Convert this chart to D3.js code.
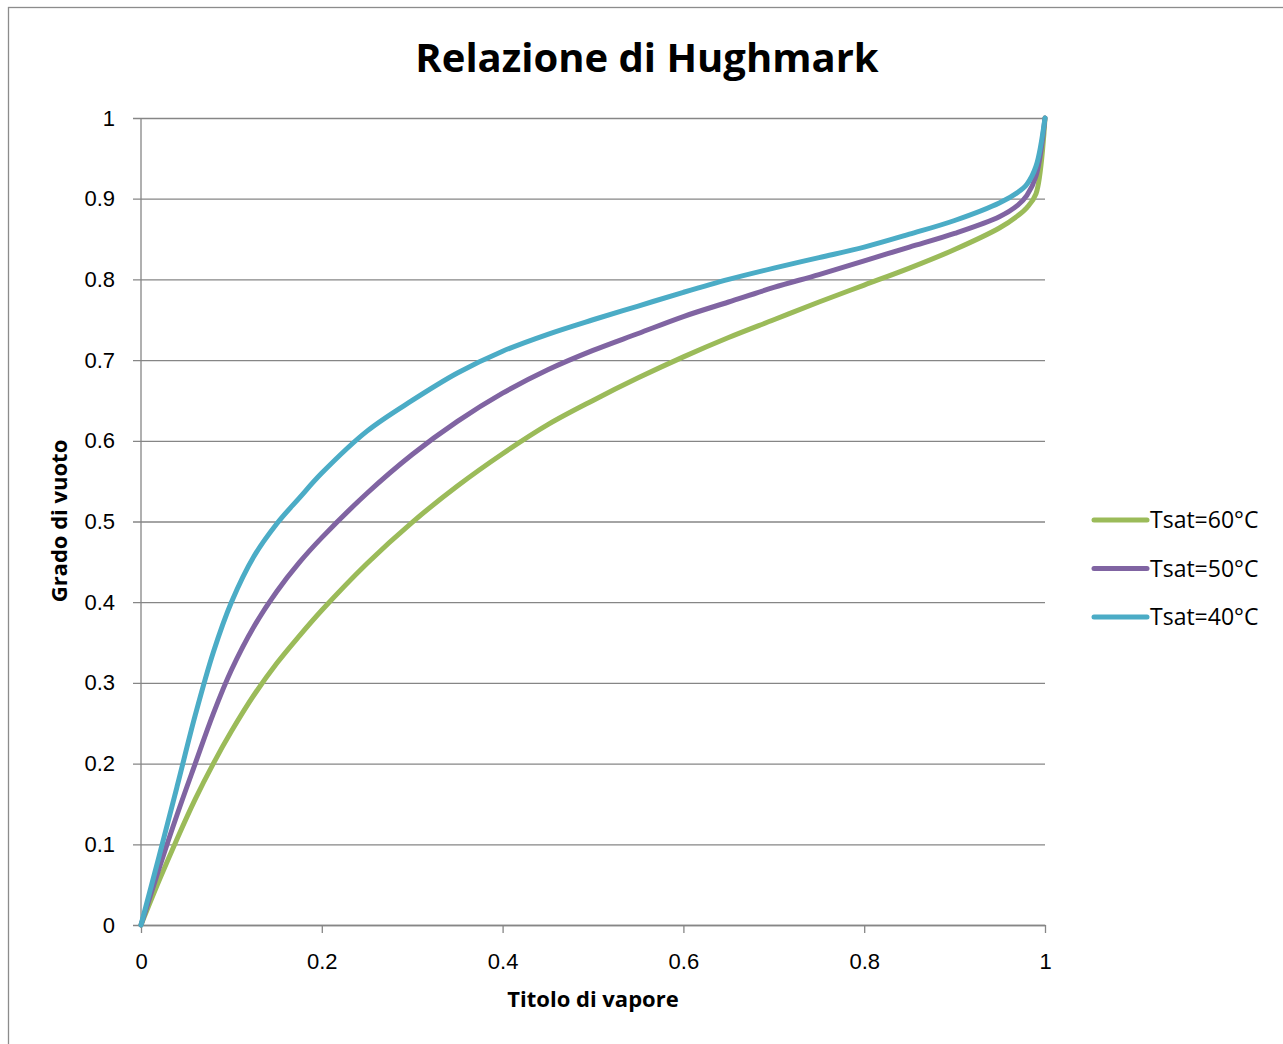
<!DOCTYPE html>
<html>
<head>
<meta charset="utf-8">
<script src="https://cdn.jsdelivr.net/npm/d3@7"></script>
<style>
  body { margin: 0; background: #fff; }
  svg { font-family: "Open Sans", "Noto Sans", sans-serif; }
</style>
</head>
<body>
<svg></svg>
<script>
const svgWidth = 1283;
const svgHeight = 1044;
const margin = {left: 141, right: 238, top: 118, bottom: 119};

// titolo di vapore (x) e grado di vuoto per ogni Tsat
const titolo = [0, 0.02, 0.04, 0.06, 0.08, 0.1, 0.125, 0.15, 0.175, 0.2, 0.25, 0.3, 0.35, 0.4, 0.45, 0.5,
                0.55, 0.6, 0.65, 0.7, 0.75, 0.8, 0.85, 0.9, 0.95, 0.97, 0.98, 0.99, 1];
const vuoto60 = [0, 0.055, 0.107, 0.156, 0.2, 0.24, 0.285, 0.324, 0.358, 0.39, 0.448, 0.499, 0.544, 0.584, 0.62, 0.65,
                 0.678, 0.704, 0.728, 0.75, 0.772, 0.793, 0.814, 0.837, 0.864, 0.879, 0.889, 0.906, 1];
const vuoto50 = [0, 0.07, 0.137, 0.2, 0.262, 0.316, 0.37, 0.413, 0.449, 0.48, 0.535, 0.583, 0.624, 0.659, 0.688, 0.712,
                 0.733, 0.754, 0.772, 0.79, 0.806, 0.823, 0.84, 0.857, 0.878, 0.892, 0.904, 0.928, 1];
const vuoto40 = [0, 0.085, 0.172, 0.26, 0.338, 0.40, 0.457, 0.497, 0.529, 0.56, 0.612, 0.65, 0.684, 0.711, 0.732, 0.75,
                 0.767, 0.784, 0.80, 0.814, 0.827, 0.84, 0.856, 0.873, 0.895, 0.908, 0.918, 0.94, 1];

const seriesNames = ["Tsat=60°C", "Tsat=50°C", "Tsat=40°C"];
const seriesValues = [vuoto60, vuoto50, vuoto40];
const seriesColors = ["#9bbb59", "#8064a2", "#4bacc6"];
const xTicks = [0, 0.2, 0.4, 0.6, 0.8, 1];
const yTicks = [0, 0.1, 0.2, 0.3, 0.4, 0.5, 0.6, 0.7, 0.8, 0.9, 1];

const svg = d3.select("svg")
        .attr("width", svgWidth)
        .attr("height", svgHeight);

// bordo del grafico (solo lati sinistro e superiore visibili)
svg.append("rect")
    .attr("x", 8.5).attr("y", 7.5)
    .attr("width", svgWidth + 20).attr("height", svgHeight + 20)
    .attr("fill", "none")
    .attr("stroke", "#8c8c8c")
    .attr("stroke-width", 1.3);

const xScale = d3.scaleLinear()
        .domain([0, 1])
        .range([margin.left, svgWidth - margin.right]);
const yScale = d3.scaleLinear()
        .domain([0, 1])
        .range([svgHeight - margin.bottom, margin.top]);

let fmt = d => d3.format("")(+d.toFixed(1));

// griglia + asse y
let yAxis = d3.axisLeft(yScale)
        .tickValues(yTicks)
        .tickSize(-(xScale(1) - xScale(0)))
        .tickSizeOuter(0)
        .tickPadding(26)
        .tickFormat(fmt);
let gy = svg.append("g")
        .attr("transform", `translate(${margin.left}, 0)`)
        .call(yAxis);
gy.select(".domain").remove();
gy.selectAll(".tick line")
    .attr("x1", -8)
    .attr("stroke", "#868686")
    .attr("stroke-width", 1.3);
gy.selectAll(".tick text")
    .attr("font-size", 22)
    .attr("fill", "#000");

let xAxis = d3.axisBottom(xScale)
        .tickValues(xTicks)
        .tickSize(8)
        .tickSizeOuter(0)
        .tickPadding(20)
        .tickFormat(fmt);
let gx = svg.append("g")
        .attr("transform", `translate(0, ${yScale(0)})`)
        .call(xAxis);
gx.select(".domain").attr("stroke", "#868686").attr("stroke-width", 1.3);
gx.selectAll(".tick line").attr("stroke", "#868686").attr("stroke-width", 1.3);
gx.selectAll(".tick text").attr("font-size", 22).attr("fill", "#000");

// asse verticale
svg.append("line")
    .attr("x1", xScale(0)).attr("x2", xScale(0))
    .attr("y1", yScale(0)).attr("y2", yScale(1))
    .attr("stroke", "#868686")
    .attr("stroke-width", 1.3);

// curve
const line = d3.line()
        .x(d => xScale(d[0]))
        .y(d => yScale(d[1]))
        .curve(d3.curveCatmullRom.alpha(0.5));

seriesValues.forEach((vals, i) => {
    svg.append("path")
        .datum(titolo.map((t, j) => [t, vals[j]]))
        .attr("d", line)
        .attr("fill", "none")
        .attr("stroke", seriesColors[i])
        .attr("stroke-width", 5)
        .attr("stroke-linejoin", "round")
        .attr("stroke-linecap", "round");
});

// titolo
svg.append("text")
    .text("Relazione di Hughmark")
    .attr("x", 647)
    .attr("y", 72)
    .attr("font-size", 40)
    .attr("font-weight", "bold")
    .attr("text-anchor", "middle");

// titoli degli assi
svg.append("text")
    .text("Titolo di vapore")
    .attr("x", 593)
    .attr("y", 1007)
    .attr("font-size", 22)
    .attr("font-weight", "bold")
    .attr("text-anchor", "middle");

svg.append("text")
    .text("Grado di vuoto")
    .attr("transform", "rotate(-90)")
    .attr("x", -521)
    .attr("y", 67)
    .attr("font-size", 22)
    .attr("font-weight", "bold")
    .attr("text-anchor", "middle");

// legenda
let legend = svg.selectAll(".legend")
        .data(seriesNames)
        .enter()
        .append("g")
        .attr("transform", (d, i) => `translate(1094, ${520 + i * 48.5})`);
legend.append("line")
    .attr("x1", 0).attr("x2", 53)
    .attr("stroke", (d, i) => seriesColors[i])
    .attr("stroke-width", 5)
    .attr("stroke-linecap", "round");
legend.append("text")
    .text(d => d)
    .attr("x", 56)
    .attr("y", 8)
    .attr("font-size", 23);
</script>
</body>
</html>
